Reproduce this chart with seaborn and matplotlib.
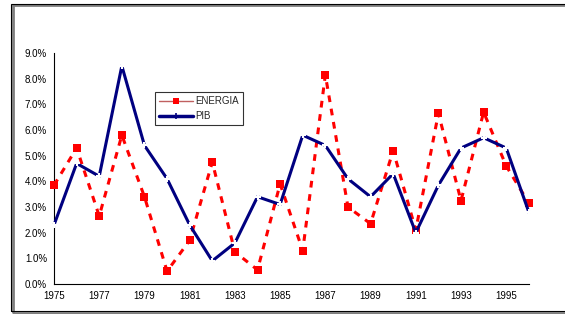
import numpy as np
import pandas as pd
import matplotlib
matplotlib.use('Agg')
import matplotlib.pyplot as plt
import seaborn as sns
from matplotlib.lines import Line2D
from matplotlib.patches import Rectangle
from matplotlib.ticker import FuncFormatter, MultipleLocator, FixedLocator

years = list(range(1975, 1997))
energia = [3.85, 5.3, 2.65, 5.8, 3.4, 0.5, 1.7, 4.75, 1.25, 0.55, 3.9, 1.3,
           8.15, 3.0, 2.35, 5.2, 2.1, 6.65, 3.25, 6.7, 4.6, 3.15]
pib = [2.3, 4.7, 4.2, 8.5, 5.4, 4.1, 2.3, 0.9, 1.6, 3.4, 3.1, 5.8,
       5.4, 4.1, 3.4, 4.3, 2.0, 3.85, 5.3, 5.7, 5.3, 2.8]
year_labels = years[::2]

df = pd.DataFrame({'year': years, 'ENERGIA': energia, 'PIB': pib})

sns.set_style('white')
plt.rcParams['font.family'] = ['Liberation Sans', 'DejaVu Sans']

fig = plt.figure(figsize=(5.65, 3.14), dpi=100)
ax = fig.add_axes([0.0956, 0.0955, 0.8404, 0.7355])

# outer chart frame with shadow
fig.patches.append(Rectangle((13 / 565, 0.002), 1.0, 0.982, transform=fig.transFigure,
                             fill=False, lw=2.0, ec='#7f7f7f', zorder=0))
fig.patches.append(Rectangle((11 / 565, 0.010), 1.0, 0.978, transform=fig.transFigure,
                             fill=False, lw=0.8, ec='black', zorder=1))

sns.lineplot(data=df, x='year', y='ENERGIA', ax=ax, color='#ff0000', lw=2.2,
             marker='s', markersize=5.5, markeredgewidth=0, dashes=False,
             linestyle=(0, (2.2, 2.2)), zorder=3, clip_on=False)
sns.lineplot(data=df, x='year', y='PIB', ax=ax, color='#000080', lw=2.2,
             marker='+', markersize=5, markeredgewidth=1.5, zorder=4, clip_on=False)

ax.set_xlim(1975, 1996)
ax.set_ylim(0, 9)
ax.xaxis.set_major_locator(FixedLocator(year_labels))
ax.xaxis.set_minor_locator(FixedLocator(years))
ax.yaxis.set_major_locator(MultipleLocator(1))
ax.yaxis.set_major_formatter(FuncFormatter(lambda v, p: f'{v:.1f}%'))
ax.xaxis.set_major_formatter(FuncFormatter(lambda v, p: f'{int(v)}'))
ax.tick_params(axis='both', which='both', direction='inout', length=6, width=0.8,
               labelsize=7, colors='black', pad=2)
ax.set_xlabel('')
ax.set_ylabel('')
sns.despine(ax=ax)
for s in ('left', 'bottom'):
    ax.spines[s].set_linewidth(0.8)
    ax.spines[s].set_color('black')

handles = [
    Line2D([], [], color='#c06060', lw=1.0, marker='s', markersize=5,
           markerfacecolor='#ff0000', markeredgewidth=0),
    Line2D([], [], color='#000080', lw=2.5, marker='+', markersize=5,
           markeredgewidth=1.2),
]
leg = ax.legend(handles, ['ENERGIA', 'PIB'], loc='upper left',
                bbox_to_anchor=(0.212, 0.83), frameon=True, fancybox=False,
                shadow=False, fontsize=7, handlelength=3.5, borderpad=0.4,
                labelspacing=0.5, handletextpad=0.3, borderaxespad=0)
leg.get_frame().set_edgecolor('black')
leg.get_frame().set_linewidth(0.8)

fig.savefig('out.png', dpi=100)
